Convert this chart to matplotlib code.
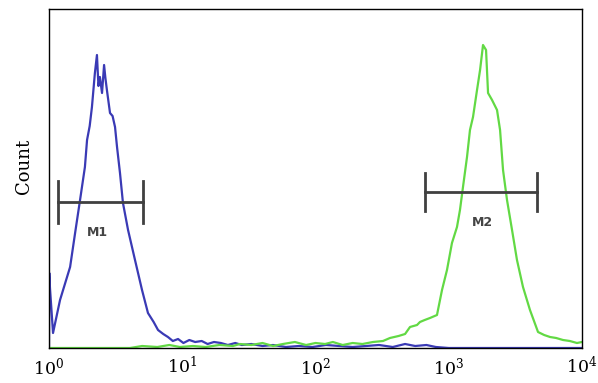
import matplotlib
matplotlib.use("Agg")
import matplotlib.pyplot as plt

# ---- data (fluorescence intensity, count) ----
blue_x = [1.0, 1.005, 1.017, 1.072, 1.21, 1.44, 1.57, 1.71, 1.86, 1.93, 2.02, 2.10, 2.21, 2.29,
          2.35, 2.41, 2.50, 2.59, 2.65, 2.72, 2.87, 3.00, 3.13, 3.24, 3.41, 3.59, 3.92, 4.42,
          4.99, 5.53, 6.10, 6.58, 7.2, 7.81, 8.5, 9.3, 10.2, 11.3, 12.5, 14.0, 15.5, 17.3, 19.5,
          22.0, 25.0, 28.0, 33.0, 40.0, 48.0, 60.0, 75.0, 95.0, 120.0, 150.0, 190.0, 240.0,
          300.0, 380.0, 470.0, 560.0, 680.0, 800.0, 1000.0, 10000.0]
blue_y = [0, 75, 60, 15, 48, 81, 115, 148, 181, 208, 222, 241, 275, 293,
          262, 271, 255, 283, 270, 258, 235, 232, 221, 201, 175, 145, 118, 88,
          58, 35, 26, 18, 14, 11, 7, 9, 5, 8, 6, 7, 4, 6, 5,
          3, 5, 3, 4, 2, 3, 1, 2, 1, 3, 2, 1, 2,
          3, 1, 4, 2, 3, 1, 0, 0]

green_x = [1.0, 4.05, 5.0, 6.5, 8.0, 9.6, 12.0, 15.0, 19.0, 24.0, 27.1, 33.0, 40.0, 48.0, 57.0,
           70.0, 85.0, 100.0, 118.0, 135.0, 160.0, 190.0, 225.0, 270.0, 321.0, 362.0, 420.0,
           470.0, 512.0, 578.0, 608.0, 660.0, 723.0, 816.0, 890.0, 970.0, 1057.0, 1153.0,
           1214.0, 1279.0, 1371.0, 1443.0, 1521.0, 1630.0, 1718.0, 1808.0, 1905.0, 1972.0,
           2113.0, 2303.0, 2427.0, 2555.0, 2737.0, 2985.0, 3251.0, 3607.0, 4070.0, 4677.0,
           5200.0, 5755.0, 6400.0, 7200.0, 8100.0, 9170.0, 10000.0]
green_y = [0, 0, 2, 1, 3, 1, 2, 1, 3, 2, 4, 3, 5, 2, 4,
           6, 3, 5, 4, 6, 3, 5, 4, 6, 7, 10, 12,
           14, 21, 23, 26, 28, 30, 33, 58, 78, 105, 121,
           138, 161, 191, 218, 231, 258, 278, 303, 298, 255,
           248, 238, 218, 178, 148, 118, 88, 61, 38, 16,
           13, 11, 10, 8, 7, 5, 6]

gate_names = ["M1", "M2"]
gate_lo = [1.17, 664.0]
gate_hi = [5.10, 4590.0]
gate_level = [146, 156]
gate_half = [21, 19]
gate_label_x = [2.29, 1775.0]
gate_label_y = [116, 126]

xticks = [1, 10, 100, 1000, 10000]

# ---- style ----
plt.rcParams['font.family'] = ['DejaVu Serif']
plt.rcParams['mathtext.fontset'] = 'dejavuserif'

fig = plt.figure(figsize=(5.98, 3.83), dpi=100)
ax = fig.add_axes([49/598, 35/383, 533/598, 339/383])

ax.plot(blue_x, blue_y, color='#3a3ab5', lw=1.6, solid_joinstyle='round')
ax.plot(green_x, green_y, color='#62d944', lw=1.6, solid_joinstyle='round')

for name, lo, hi, lev, h, lx, ly in zip(gate_names, gate_lo, gate_hi, gate_level,
                                         gate_half, gate_label_x, gate_label_y):
    ax.plot([lo, hi], [lev, lev], color='#404040', lw=2)
    ax.plot([lo, lo], [lev - h, lev + h], color='#404040', lw=2)
    ax.plot([hi, hi], [lev - h, lev + h], color='#404040', lw=2)
    ax.text(lx, ly, name, ha='center', va='center', fontsize=9, fontweight='bold',
            family='DejaVu Sans', color='#444444')

ax.set_xscale('log')
ax.set_xlim(1, 10000)
ax.set_ylim(0, 339)
ax.set_xticks(xticks)
ax.minorticks_off()
ax.tick_params(axis='x', length=0, pad=6, labelsize=12.5)
ax.set_yticks([])
ax.set_ylabel('Count', fontsize=13)
ax.yaxis.set_label_coords(-0.030, 0.537)
for s in ax.spines.values():
    s.set_linewidth(1.0)
    s.set_color('black')

fig.savefig('out.png', dpi=100)
